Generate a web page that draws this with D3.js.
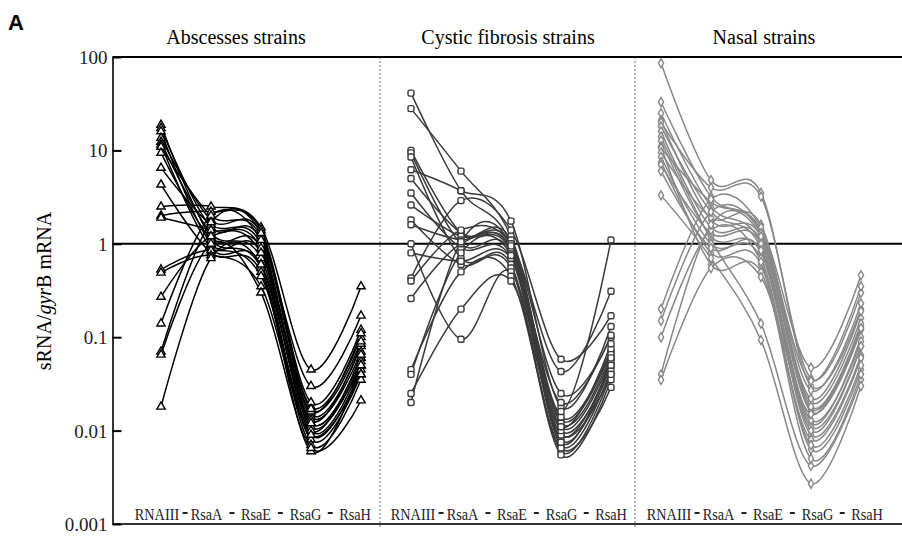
<!DOCTYPE html>
<html>
<head>
<meta charset="utf-8">
<script src="https://cdn.jsdelivr.net/npm/d3@7"></script>
<style>
	body { margin: 0; background: #fff; }
	svg { display: block; }
	text { font-family: 'Liberation Serif', 'Times New Roman', serif; }
</style>
</head>
<body>
<svg id="svg" width="902" height="537"></svg>
<script>
// panel titles and the five sRNAs measured in every panel
const panels = ['Abscesses strains', 'Cystic fibrosis strains', 'Nasal strains']
const srnas = ['RNAIII', 'RsaA', 'RsaE', 'RsaG', 'RsaH']
const yTicks = [0.001, 0.01, 0.1, 1, 10, 100]
const yTickLabels = ['0.001', '0.01', '0.1', '1', '10', '100']

// one row per strain: RNAIII, RsaA, RsaE, RsaG, RsaH (sRNA/gyrB mRNA)
const abscesses = [
	[18.7, 1.2, 0.9, 0.012, 0.06],
	[17.3, 1.5, 1.1, 0.010, 0.05],
	[16.0, 1.0, 0.8, 0.009, 0.045],
	[13.6, 1.8, 1.3, 0.015, 0.08],
	[12.3, 1.3, 0.7, 0.011, 0.055],
	[11.5, 0.9, 0.6, 0.008, 0.04],
	[10.9, 2.0, 1.2, 0.018, 0.1],
	[9.4, 1.1, 0.55, 0.007, 0.035],
	[6.5, 1.6, 1.0, 0.014, 0.07],
	[4.3, 0.8, 0.5, 0.006, 0.05],
	[2.5, 2.5, 1.5, 0.045, 0.35],
	[2.0, 2.2, 1.4, 0.02, 0.12],
	[1.9, 1.4, 0.9, 0.013, 0.085],
	[0.53, 0.85, 0.45, 0.01, 0.065],
	[0.49, 0.75, 0.35, 0.009, 0.04],
	[0.27, 1.2, 0.8, 0.016, 0.11],
	[0.14, 2.0, 1.1, 0.03, 0.17],
	[0.07, 1.7, 1.3, 0.017, 0.09],
	[0.065, 1.0, 0.3, 0.0065, 0.021],
	[0.018, 0.7, 0.6, 0.012, 0.05]
]

const cysticFibrosis = [
	[41, 3.7, 1.0, 0.011, 0.06],
	[28, 6.0, 1.2, 0.025, 0.1],
	[10, 1.3, 0.9, 0.008, 0.05],
	[9.4, 1.0, 0.8, 0.007, 0.045],
	[8.5, 0.7, 0.6, 0.006, 0.04],
	[6.2, 3.7, 1.75, 0.018, 0.13],
	[5.0, 1.3, 0.85, 0.013, 0.07],
	[3.5, 0.9, 0.7, 0.009, 0.055],
	[2.6, 1.2, 1.0, 0.014, 0.075],
	[1.8, 0.6, 0.55, 0.0055, 0.035],
	[1.6, 1.1, 1.1, 0.012, 0.065],
	[1.0, 0.095, 0.5, 0.009, 0.04],
	[0.8, 0.65, 0.7, 0.02, 0.105],
	[0.43, 2.9, 1.4, 0.058, 0.17],
	[0.40, 1.4, 1.0, 0.043, 0.31],
	[0.26, 1.0, 0.9, 0.016, 1.1],
	[0.045, 0.5, 0.45, 0.0065, 0.029],
	[0.04, 0.8, 0.75, 0.01, 0.05],
	[0.025, 0.2, 0.4, 0.011, 0.085],
	[0.02, 1.05, 0.95, 0.0075, 0.06]
]

const nasal = [
	[86, 4.8, 3.5, 0.03, 0.2],
	[33, 3.2, 1.3, 0.016, 0.12],
	[25, 2.5, 1.0, 0.012, 0.1],
	[21, 1.8, 1.2, 0.02, 0.16],
	[20, 4.0, 3.2, 0.036, 0.3],
	[18, 2.2, 0.9, 0.011, 0.08],
	[16, 1.5, 1.1, 0.017, 0.13],
	[14, 1.1, 0.14, 0.0042, 0.035],
	[12.7, 1.2, 0.8, 0.009, 0.064],
	[11, 0.6, 0.5, 0.008, 0.06],
	[10.6, 2.8, 1.4, 0.027, 0.23],
	[9.5, 1.9, 1.6, 0.018, 0.14],
	[8.5, 1.0, 0.7, 0.0063, 0.045],
	[7.5, 0.8, 0.6, 0.005, 0.04],
	[7.0, 1.3, 1.0, 0.013, 0.09],
	[6.0, 0.9, 0.85, 0.01, 0.08],
	[3.3, 0.7, 0.093, 0.0027, 0.03],
	[0.2, 3.0, 1.5, 0.047, 0.46],
	[0.15, 2.2, 1.3, 0.034, 0.35],
	[0.1, 1.4, 0.64, 0.007, 0.05],
	[0.04, 1.6, 1.2, 0.022, 0.19],
	[0.035, 0.55, 0.44, 0.015, 0.125]
]

const groups = [
	{ strains: abscesses, color: '#000', marker: 'triangle' },
	{ strains: cysticFibrosis, color: '#3a3a3a', marker: 'square' },
	{ strains: nasal, color: '#888', marker: 'diamond' }
]

const $svg = d3.select('#svg')

const plotLeft = 112.5
const plotRight = 902
const plotTop = 57
const plotBottom = 524
const dividers = [380, 635]

const scaleY = d3.scaleLog()
	.domain([0.001, 100])
	.range([plotBottom, plotTop])

// all 15 sRNA positions share one evenly spaced axis
const scaleX = d3.scaleLinear()
	.domain([0, 14])
	.range([161, 861])

const drawLine = d3.line()
	.x(d => scaleX(d.i))
	.y(d => scaleY(d.v))
	.curve(d3.curveCardinal.tension(0))

// panel letter
$svg.append('text')
	.attr('x', 8)
	.attr('y', 30)
	.style('font-family', "'Liberation Sans', Arial, sans-serif")
	.style('font-weight', 'bold')
	.style('font-size', '22px')
	.text('A')

// titles
panels.forEach((title, p) => {
	$svg.append('text')
		.attr('x', [236, 508, 764][p])
		.attr('y', 44)
		.attr('text-anchor', 'middle')
		.style('font-size', '20px')
		.text(title)
})

// dashed separators
dividers.forEach(x => {
	$svg.append('line')
		.attr('x1', x).attr('x2', x)
		.attr('y1', plotTop).attr('y2', plotBottom + 4)
		.attr('stroke', '#888')
		.attr('stroke-width', 1.2)
		.attr('stroke-dasharray', '2,2')
})

// reference lines at 100 and 1, and the base line
;[100, 1].forEach(v => {
	$svg.append('line')
		.attr('x1', plotLeft).attr('x2', plotRight)
		.attr('y1', scaleY(v)).attr('y2', scaleY(v))
		.attr('stroke', '#000')
		.attr('stroke-width', 2)
})
$svg.append('line')
	.attr('x1', plotLeft).attr('x2', plotRight)
	.attr('y1', plotBottom).attr('y2', plotBottom)
	.attr('stroke', '#333')
	.attr('stroke-width', 2)

// y axis with inward ticks
const $yAxis = $svg.append('g')
	.attr('transform', `translate(${plotLeft},0)`)
	.call(d3.axisLeft(scaleY)
		.tickValues(yTicks)
		.tickFormat((d, i) => yTickLabels[i])
		.tickSizeInner(-9)
		.tickSizeOuter(0)
		.tickPadding(5))
$yAxis.select('.domain').attr('stroke', '#333').attr('stroke-width', 2)
$yAxis.selectAll('.tick line').attr('stroke', '#000').attr('stroke-width', 2)
$yAxis.selectAll('.tick text')
	.style('font-family', "'Liberation Serif', serif")
	.style('font-size', '19px')
	.attr('fill', '#222')
	.attr('dy', '0.34em')

// y axis title
const $yTitle = $svg.append('text')
	.attr('transform', 'translate(51,291) rotate(-90)')
	.attr('text-anchor', 'middle')
	.style('font-size', '20px')
$yTitle.append('tspan').text('sRNA/')
$yTitle.append('tspan').style('font-style', 'italic').text('gyr')
$yTitle.append('tspan').text('B mRNA')

const markerPath = type => {
	if (type === 'triangle') return d3.symbol(d3.symbolTriangle, 30)()
	if (type === 'diamond') return d3.symbol(d3.symbolDiamond, 24)()
	return 'M-1.2,-3H1.2Q3,-3 3,-1.2V1.2Q3,3 1.2,3H-1.2Q-3,3 -3,1.2V-1.2Q-3,-3 -1.2,-3Z'
}

// strain curves and markers
groups.forEach((group, p) => {
	const $g = $svg.append('g')
	const rows = group.strains.map(values => values.map((v, k) => ({ i: p * 5 + k, v })))

	$g.selectAll('path.strain')
		.data(rows)
		.join('path')
		.attr('class', 'strain')
		.attr('d', drawLine)
		.attr('fill', 'none')
		.attr('stroke', group.color)
		.attr('stroke-width', 1.5)

	$g.selectAll('path.mark')
		.data(rows.flat())
		.join('path')
		.attr('class', 'mark')
		.attr('d', markerPath(group.marker))
		.attr('transform', d => `translate(${scaleX(d.i)},${scaleY(d.v)})`)
		.attr('fill', '#fff')
		.attr('stroke', group.color)
		.attr('stroke-width', 1.4)
})

// category labels, drawn a little condensed like the original
panels.forEach((title, p) => {
	const $labels = srnas.map((name, k) => {
		const $t = $svg.append('text')
			.attr('x', 157 + p * 256 + k * 49.5)
			.attr('y', 520)
			.attr('text-anchor', 'middle')
			.style('font-family', "'Liberation Serif', serif")
			.style('font-size', '17px')
			.attr('fill', '#222')
			.text(name)
		const w = $t.node().getComputedTextLength()
		$t.attr('textLength', w * 0.84).attr('lengthAdjust', 'spacingAndGlyphs')
		return $t
	})
	$labels.slice(0, -1).forEach(($t, k) => {
		const a = $t.node().getBBox()
		const b = $labels[k + 1].node().getBBox()
		const mid = (a.x + a.width + b.x) / 2
		$svg.append('line')
			.attr('x1', mid - 2.5).attr('x2', mid + 2.5)
			.attr('y1', 513).attr('y2', 513)
			.attr('stroke', '#222')
			.attr('stroke-width', 2)
	})
})
</script>
</body>
</html>
